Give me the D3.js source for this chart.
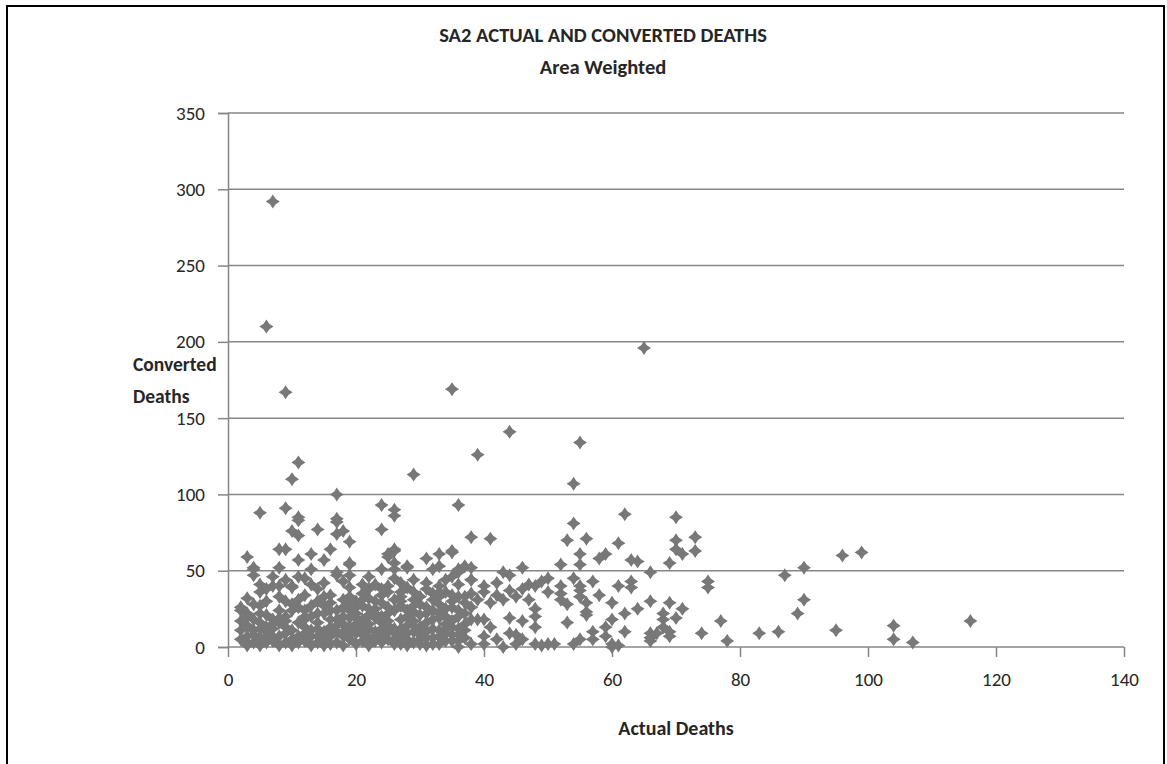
<!DOCTYPE html>
<html>
<head>
<meta charset="utf-8">
<script src="https://cdnjs.cloudflare.com/ajax/libs/d3/7.8.5/d3.min.js"></script>
<style>
  body { margin: 0; background: #fff; }
  text { font-family: Carlito, Calibri, Lato, sans-serif; fill: #262626; }
</style>
</head>
<body>
<script>
// values, [actual, converted]
var outlierPoints = [[7,292],[6,210],[9,167],[35,169],[65,196],[11,121],[10,110],[29,113],[39,126],[44,141],
  [55,134],[54,107],[17,100],[5,88],[9,91],[11,85],[17,84],[24,93],[26,90],[26,86],[36,93]];
var upperPoints = [[10,76],[11,73],[14,77],[17,74],[18,76],[19,69],[24,77],[11,83],[17,82],[62,87],
  [70,85],[73,72],[73,63],[70,70],[70,64],[71,61],[54,81],[53,70],[56,71],[38,72],[41,71],[61,68],
  [96,60],[99,62],[8,64],[9,64],[3,59],[11,57],[13,61],[15,57],[16,64],[25,59],[26,63],[31,58],
  [33,61],[35,62],[26,64],[25,61],[35,63]];
var middlePoints = [[4,52],[4,47],[8,52],[13,51],[19,54],[19,47],[17,47],[11,46],[26,55],[28,52],
  [22,46],[24,51],[26,45],[33,53],[35,46],[36,51],[4,51],[12,45],[17,49],[18,43],[26,51],[28,53],
  [32,51],[37,53],[36,49],[34,44],[36,41],[33,40],[23,41],[55,61],[55,54],[58,58],[59,61],[63,57],
  [64,56],[69,55],[66,49],[52,54],[46,52],[44,47],[38,52],[43,49],[57,43],[61,40],[63,43],[63,39],
  [75,43],[75,39],[87,47],[90,52],[38,44],[42,42],[40,40],[47,41],[48,40],[49,43],[50,45],[52,40],
  [54,45],[55,40],[19,55],[10,40],[5,41],[31,42],[29,44],[27,42],[25,40],[21,41],[19,39],[15,42],
  [13,41],[9,44],[7,46]];
var lowMidPoints = [[6,38],[7,40],[8,40],[10,39],[12,34],[14,38],[15,33],[3,32],[5,36],[2,24],[3,20],
  [5,27],[6,21],[7,18],[8,24],[9,20],[11,26],[12,20],[15,27],[16,29],[17,24],[18,20],[2,26],[3,22],
  [5,22],[4,18],[2,17],[22,38],[24,38],[27,36],[28,39],[29,36],[31,38],[32,35],[33,28],[36,33],
  [37,29],[19,33],[20,30],[21,27],[22,32],[23,25],[24,29],[25,22],[26,31],[27,27],[28,24],[29,31],
  [30,28],[31,22],[32,31],[34,25],[35,30],[36,24],[38,35],[20,22],[22,21],[24,34],[25,36],[27,33],
  [30,33],[33,33],[34,36],[21,35],[18,31],[16,34],[14,30],[13,27],[11,31],[9,30],[8,33],[10,24],
  [20,26],[37,33],[38,44],[37,22],[41,29],[43,31],[46,38],[47,31],[48,25],[48,20],[52,35],[52,31],
  [55,33],[56,23],[58,34],[56,29],[60,29],[66,30],[64,25],[69,29],[71,25],[68,22],[62,22],[56,21],
  [70,19],[40,36],[42,34],[44,37],[45,33],[39,31],[50,36],[53,28],[55,37],[13,20],[15,22],[17,18],
  [19,24],[20,19],[22,25],[23,22],[24,20],[26,24],[28,20],[29,23],[30,21],[32,24],[33,22],[34,20],
  [35,26],[36,20],[38,26],[10,28],[12,24],[14,22],[16,24],[18,26],[19,29],[21,31],[23,30],[25,26],
  [27,30],[29,27],[31,26],[33,36],[35,34],[6,30],[4,28]];
var lowerPoints = [[68,18],[68,13],[60,18],[59,13],[77,17],[62,10],[57,10],[57,5],[59,7],[66,9],[67,9],
  [66,4],[66,6],[69,10],[69,7],[60,0],[61,1],[74,9],[78,4],[83,9],[86,10],[95,11],[104,14],[104,5],
  [107,3],[116,17],[89,22],[90,31],[53,16],[48,2],[50,2],[51,2],[49,1],[54,2],[55,5],[60,2],[43,0],
  [45,2],[44,9],[40,2],[40,7],[39,18],[40,18],[41,13],[44,19],[46,17],[48,13],[38,18],[45,8],[46,5],
  [42,5],[3,1],[4,3],[5,1],[6,3],[8,1],[9,3],[10,1],[11,3],[13,1],[14,3],[15,1],[17,3],[18,1],[3,7],
  [6,7],[7,7],[8,7],[11,7],[13,7],[14,7],[16,7],[18,7],[4,11],[6,13],[9,13],[10,11],[12,13],[13,11],
  [5,16],[8,16],[11,16],[14,16],[16,13],[17,10],[15,10],[19,5],[20,2],[21,8],[22,12],[23,4],[24,16],
  [25,10],[26,2],[27,7],[28,14],[29,3],[30,13],[31,10],[32,6],[33,2],[34,15],[35,8],[36,4],[37,11],
  [38,2],[20,15],[21,18],[22,6],[23,10],[24,3],[25,17],[26,12],[27,2],[28,9],[29,17],[30,5],[31,1],
  [32,18],[33,11],[34,4],[35,13],[36,0],[19,12],[18,15],[20,9],[22,1],[24,7],[26,5],[28,1],[30,8],
  [32,2],[34,9],[12,18],[9,17],[7,12],[5,6],[3,3],[2,11],[16,18],[19,19],[21,13],[23,19],[27,18],
  [31,16],[33,19],[35,17],[37,15],[36,8],[2,5],[4,8],[6,10],[7,4],[9,9],[10,5],[12,4],[12,9],[14,12],
  [15,5],[16,2],[17,14],[18,10],[19,8],[20,12],[21,4],[21,10],[22,15],[23,7],[24,12],[25,5],[25,14],
  [26,9],[27,12],[28,5],[29,10],[29,14],[30,2],[31,6],[32,12],[33,7],[34,12],[35,4],[36,12],[37,6],
  [3,14],[5,12],[7,15],[8,19]];

var xTicks = [0,20,40,60,80,100,120,140];
var yTicks = [0,50,100,150,200,250,300,350];

var svg = d3.select('body').append('svg').attr('width',1167).attr('height',764);

// outer chart border
svg.append('rect').attr('x',7).attr('y',6).attr('width',1157).attr('height',770)
  .attr('fill','none').attr('stroke','#000').attr('stroke-width',2);

var x = d3.scaleLinear().domain([0,140]).range([228,1124]);
var y = d3.scaleLinear().domain([0,350]).range([647,113]);

// gridlines
svg.append('g').selectAll('line').data(yTicks.slice(1)).join('line')
  .attr('x1',x(0)).attr('x2',x(140)).attr('y1',d=>y(d)).attr('y2',d=>y(d))
  .attr('stroke','#868686').attr('stroke-width',1.5);

var yAxis = svg.append('g').attr('transform','translate('+x(0)+',0)')
  .call(d3.axisLeft(y).tickValues(yTicks).tickSize(10).tickPadding(13));
var xAxis = svg.append('g').attr('transform','translate(0,'+y(0)+')')
  .call(d3.axisBottom(x).tickValues(xTicks).tickSize(10).tickPadding(16));
[xAxis,yAxis].forEach(function(a){
  a.select('.domain').attr('stroke','#868686').attr('stroke-width',1.5);
  a.selectAll('.tick line').attr('stroke','#868686').attr('stroke-width',1.5);
  a.selectAll('.tick text').style('font-size','19px').attr('fill','#262626');
});
xAxis.select('.domain').attr('d','M'+x(0)+',0H'+x(140));

var allPoints = outlierPoints.concat(upperPoints,middlePoints,lowMidPoints,lowerPoints);
var diamond = 'M0,-7L2.8,-2.8L7,0L2.8,2.8L0,7L-2.8,2.8L-7,0L-2.8,-2.8Z';
svg.append('g').selectAll('path').data(allPoints).join('path')
  .attr('d',diamond)
  .attr('transform',d=>'translate('+x(d[0])+','+y(d[1])+')')
  .attr('fill','#787878');

// titles
svg.append('text').attr('x',603).attr('y',42).attr('text-anchor','middle')
  .style('font-size','20.5px').style('font-weight','bold').text('SA2 ACTUAL AND CONVERTED  DEATHS');
svg.append('text').attr('x',603).attr('y',74).attr('text-anchor','middle')
  .style('font-size','20.5px').style('font-weight','bold').text('Area Weighted');
svg.append('text').attr('x',676).attr('y',735).attr('text-anchor','middle')
  .style('font-size','20px').style('font-weight','bold').text('Actual Deaths');
svg.append('text').attr('x',133).attr('y',371)
  .style('font-size','19.5px').style('font-weight','bold').text('Converted');
svg.append('text').attr('x',133).attr('y',403)
  .style('font-size','19.5px').style('font-weight','bold').text('Deaths');
</script>
</body>
</html>
